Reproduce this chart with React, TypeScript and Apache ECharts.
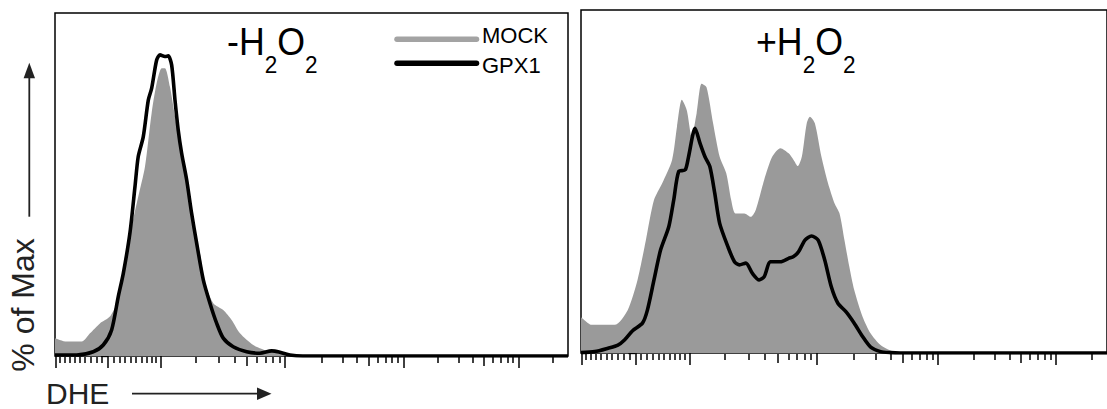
import React, { useEffect, useRef } from "react";
import * as echarts from "echarts";

// Logicle (biexponential) display used by the DHE axis
const LOGICLE_T = 262144;
const LOGICLE_M = 4.5;
const LOGICLE_W = 0.5;
// visible display range (decades relative to zero)
const U_MIN = -0.462;
const U_MAX = 4.014;

// Tick values (DHE intensity)
const majorTicks = [-100, 0, 100, 1000, 10000, 100000];
const midTicks = [500, 5000, 50000];
const minorTicks = [
  -90, -80, -70, -60, -50, -40, -30, -20, -10,
  10, 20, 30, 40, 50, 60, 70, 80, 90,
  200, 300, 400, 600, 700, 800, 900,
  2000, 3000, 4000, 6000, 7000, 8000, 9000,
  20000, 30000, 40000, 60000, 70000, 80000, 90000,
  200000,
];

// Series names and panel titles
const seriesNames = ["MOCK", "GPX1"];
const panelSigns = ["-", "+"];

// Left panel (-H2O2): x in logicle display units, y in % of max
const leftMockU = [-0.462, -0.36, -0.229, -0.157, -0.07, 0.017, 0.076, 0.148, 0.207, 0.264, 0.323, 0.381, 0.425, 0.469, 0.497, 0.541, 0.585, 0.643, 0.701, 0.759, 0.803, 0.846, 0.919, 1.006, 1.079, 1.152, 1.268, 1.414, 1.588, 1.763, 4.014];
const leftMockPct = [5.2, 4.2, 4.2, 6.6, 9.5, 11.5, 15.4, 26.0, 37.7, 46.4, 55.2, 70.8, 79.5, 83.9, 83.9, 78.5, 69.8, 59.1, 48.4, 35.8, 29.9, 21.2, 15.4, 13.4, 10.5, 6.6, 3.2, 1.25, 0.3, 0, 0];

const leftGpxU = [-0.462, -0.273, -0.128, -0.041, 0.032, 0.09, 0.134, 0.192, 0.236, 0.264, 0.308, 0.352, 0.381, 0.425, 0.454, 0.497, 0.526, 0.556, 0.585, 0.613, 0.643, 0.687, 0.73, 0.774, 0.832, 0.89, 0.949, 1.006, 1.093, 1.21, 1.326, 1.428, 1.501, 1.588, 1.7, 4.014];
const leftGpxPct = [0.3, 0.3, 1.25, 3.2, 7.6, 17.3, 24.1, 35.9, 49.4, 58.1, 63.9, 74.6, 78.0, 86.3, 87.8, 87.3, 87.5, 84.8, 74.6, 65.9, 59.1, 51.3, 41.6, 32.9, 22.2, 15.4, 9.5, 5.2, 2.7, 1.25, 0.8, 1.5, 1.1, 0.3, 0, 0];

// Right panel (+H2O2)
const rightMockU = [-0.462, -0.43, -0.371, -0.176, -0.065, 0.019, 0.09, 0.159, 0.229, 0.313, 0.355, 0.396, 0.438, 0.48, 0.522, 0.564, 0.606, 0.662, 0.718, 0.774, 0.816, 0.852, 0.928, 0.983, 1.025, 1.096, 1.165, 1.235, 1.305, 1.347, 1.383, 1.417, 1.459, 1.486, 1.528, 1.584, 1.64, 1.696, 1.738, 1.78, 1.821, 1.863, 1.934, 2.003, 2.087, 2.171, 2.255, 2.38, 4.014];
const rightMockPct = [10.4, 9.5, 8.2, 8.2, 12.5, 21.3, 32.9, 44.6, 49.5, 56.3, 66.0, 73.8, 70.8, 63.1, 69.9, 78.5, 77.5, 67.0, 57.2, 52.4, 44.6, 40.7, 40.7, 39.7, 41.7, 50.4, 57.2, 59.7, 58.2, 56.3, 54.5, 57.2, 67.0, 68.9, 67.0, 57.2, 49.5, 43.6, 40.7, 32.9, 25.2, 18.4, 10.6, 5.7, 2.3, 0.7, 0.1, 0, 0];

const rightGpxU = [-0.462, -0.344, -0.232, -0.148, -0.092, -0.023, 0.061, 0.103, 0.159, 0.215, 0.285, 0.327, 0.369, 0.425, 0.453, 0.509, 0.551, 0.593, 0.635, 0.676, 0.718, 0.788, 0.844, 0.886, 0.941, 0.997, 1.054, 1.096, 1.151, 1.235, 1.305, 1.347, 1.389, 1.444, 1.5, 1.556, 1.612, 1.668, 1.724, 1.794, 1.863, 1.934, 2.003, 2.087, 2.171, 2.255, 4.014];
const rightGpxPct = [0.1, 0.4, 1.4, 2.3, 3.8, 6.5, 8.7, 12.5, 21.3, 30.0, 36.8, 44.6, 52.9, 53.4, 57.2, 65.5, 61.1, 57.2, 54.3, 46.6, 37.8, 31.0, 26.6, 25.7, 26.2, 23.2, 21.3, 22.2, 26.6, 26.6, 27.6, 28.1, 29.5, 32.9, 34.1, 32.9, 27.1, 19.3, 14.5, 12.0, 8.7, 4.8, 1.7, 0.4, 0.1, 0, 0];

const FONT_NAME = "Liberation Sans";
const FONT = "'Liberation Sans', Arial, Helvetica, sans-serif";
const GREY = "#9a9a9a";

function zip(xs: number[], ys: number[]) {
  const n = Math.min(xs.length, ys.length);
  const out: number[][] = [];
  for (let i = 0; i < n; i++) out.push([xs[i], ys[i]]);
  return out;
}

// logicle helpers
function solveP(w: number) {
  if (w <= 0) return 1;
  let lo = 1, hi = 100;
  for (let i = 0; i < 200; i++) {
    const mid = (lo + hi) / 2;
    const val = (2 * mid * Math.log10(mid)) / (mid + 1);
    if (val < w) lo = mid; else hi = mid;
  }
  return (lo + hi) / 2;
}
const P = solveP(LOGICLE_W);
const K = LOGICLE_T * Math.pow(10, -(LOGICLE_M - LOGICLE_W));
function logicleInverse(u: number): number {
  const a = Math.abs(u);
  const s = K * (Math.pow(10, a) - P * P * Math.pow(10, -a / P) + P * P - 1);
  return u < 0 ? -s : s;
}
function toDisplay(v: number): number {
  let lo = -3, hi = 6;
  for (let i = 0; i < 200; i++) {
    const mid = (lo + hi) / 2;
    if (logicleInverse(mid) < v) lo = mid; else hi = mid;
  }
  return (lo + hi) / 2;
}

let measureCtx: CanvasRenderingContext2D | null = null;
function measure(text: string, size: number) {
  if (!measureCtx) measureCtx = document.createElement("canvas").getContext("2d");
  if (!measureCtx) return text.length * size * 0.6;
  measureCtx.font = `${size}px "${FONT_NAME}", Arial, sans-serif`;
  return measureCtx.measureText(text).width;
}

const grids = [
  { left: 55, top: 13, width: 513, height: 343 },
  { left: 581, top: 10, width: 534, height: 343 },
];

const BIG = 38;
const SUB = 24;

function formulaGroup(sign: string, x: number, baseline: number) {
  const pieces = [
    { t: sign + "H", size: BIG, sub: false },
    { t: "2", size: SUB, sub: true },
    { t: "O", size: BIG, sub: false },
    { t: "2", size: SUB, sub: true },
  ];
  let cx = 0;
  const children: any[] = [];
  pieces.forEach((p) => {
    const base = p.sub ? baseline + 16 : baseline;
    children.push({
      type: "text",
      x: cx,
      y: base,
      style: {
        text: p.t,
        fontSize: p.size,
        fontFamily: FONT,
        fill: "#000",
        align: "left",
        textAlign: "left",
        verticalAlign: "bottom",
        textVerticalAlign: "bottom",
      },
    });
    cx += measure(p.t, p.size);
  });
  return { type: "group", x, y: 0, scaleX: 0.94, z: 10, children };
}

export default function App() {
  const ref = useRef<HTMLDivElement>(null);
  useEffect(() => {
    if (!ref.current) return;
    const chart = echarts.init(ref.current, undefined, { renderer: "svg" });

    const tickSets = [
      { values: majorTicks.map(toDisplay), len: 12 },
      { values: midTicks.map(toDisplay), len: 9 },
      { values: minorTicks.map(toDisplay), len: 6 },
    ];

    const xAxes: any[] = [];
    const yAxes: any[] = [];
    grids.forEach((_, g) => {
      tickSets.forEach((ts) => {
        xAxes.push({
          type: "value",
          gridIndex: g,
          min: U_MIN,
          max: U_MAX,
          position: "bottom",
          offset: 1,
          axisLine: { show: false },
          axisLabel: { show: false },
          splitLine: { show: false },
          axisTick: {
            show: true,
            inside: false,
            length: ts.len,
            customValues: ts.values,
            lineStyle: { color: "#000", width: 1.5 },
          },
        });
      });
      yAxes.push({
        type: "value",
        gridIndex: g,
        min: 0,
        max: 100,
        axisLine: { show: false },
        axisLabel: { show: false },
        splitLine: { show: false },
        axisTick: {
          show: true,
          length: 7,
          customValues: [0],
          lineStyle: { color: "#000", width: 1.3 },
        },
      });
    });

    const panels = [
      { mock: zip(leftMockU, leftMockPct), gpx: zip(leftGpxU, leftGpxPct) },
      { mock: zip(rightMockU, rightMockPct), gpx: zip(rightGpxU, rightGpxPct) },
    ];
    const series: any[] = [];
    panels.forEach((p, g) => {
      series.push({
        type: "line",
        name: seriesNames[0],
        xAxisIndex: g * 3,
        yAxisIndex: g,
        data: p.mock,
        showSymbol: false,
        symbol: "none",
        smooth: 0.25,
        lineStyle: { width: 0, color: GREY },
        areaStyle: { color: GREY, opacity: 1 },
        z: 2,
      });
      series.push({
        type: "line",
        name: seriesNames[1],
        xAxisIndex: g * 3,
        yAxisIndex: g,
        data: p.gpx,
        showSymbol: false,
        symbol: "none",
        smooth: 0.25,
        lineStyle: { width: 3.6, color: "#000", join: "round" },
        z: 3,
      });
    });

    // bottom of the big glyphs' em box (H, O) in pixels
    const TITLE_BASELINE = 61;

    const graphic: any[] = [
      formulaGroup(panelSigns[0], 227, TITLE_BASELINE),
      formulaGroup(panelSigns[1], 756, TITLE_BASELINE),
      // legend
      { type: "line", z: 10, shape: { x1: 397, y1: 39.3, x2: 476.5, y2: 39.3 }, style: { stroke: "#a3a3a3", lineWidth: 5.5, lineCap: "round" } },
      { type: "line", z: 10, shape: { x1: 397, y1: 63.3, x2: 476.5, y2: 63.3 }, style: { stroke: "#000", lineWidth: 5.5, lineCap: "round" } },
      {
        type: "text", x: 482, y: 35, z: 10,
        style: { text: seriesNames[0], fontSize: 22, fontFamily: FONT, fill: "#000", align: "left", textAlign: "left", verticalAlign: "middle", textVerticalAlign: "middle" },
      },
      {
        type: "text", x: 482, y: 65, z: 10,
        style: { text: seriesNames[1], fontSize: 22, fontFamily: FONT, fill: "#000", align: "left", textAlign: "left", verticalAlign: "middle", textVerticalAlign: "middle" },
      },
      // y axis label + arrow
      {
        type: "text", x: 22.5, y: 305, rotation: Math.PI / 2, z: 10,
        style: { text: "% of Max", fontSize: 32, fontFamily: FONT, fill: "#222", align: "center", textAlign: "center", verticalAlign: "middle", textVerticalAlign: "middle" },
      },
      { type: "line", z: 10, shape: { x1: 29.3, y1: 216.7, x2: 29.3, y2: 76 }, style: { stroke: "#222", lineWidth: 1.8 } },
      { type: "polygon", z: 10, shape: { points: [[29.3, 62.7], [23.6, 78.3], [35, 78.3]] }, style: { fill: "#222" } },
      // x axis label + arrow
      {
        type: "text", x: 46, y: 393, z: 10,
        style: { text: "DHE", fontSize: 30, fontFamily: FONT, fill: "#222", align: "left", textAlign: "left", verticalAlign: "middle", textVerticalAlign: "middle" },
      },
      { type: "line", z: 10, shape: { x1: 132, y1: 393.7, x2: 259, y2: 393.7 }, style: { stroke: "#222", lineWidth: 1.8 } },
      { type: "polygon", z: 10, shape: { points: [[271.5, 393.7], [257, 387.5], [257, 399.9]] }, style: { fill: "#222" } },
    ];

    chart.setOption({
      animation: false,
      backgroundColor: "#fff",
      textStyle: { fontFamily: FONT },
      grid: grids.map((g) => ({
        ...g,
        show: true,
        borderColor: "#000",
        borderWidth: 1.5,
        backgroundColor: "transparent",
        containLabel: false,
      })),
      xAxis: xAxes,
      yAxis: yAxes,
      series,
      graphic,
    });

    return () => chart.dispose();
  }, []);

  return (
    <div
      ref={ref}
      style={{ position: "fixed", left: 0, top: 0, width: 1107, height: 409 }}
    />
  );
}
